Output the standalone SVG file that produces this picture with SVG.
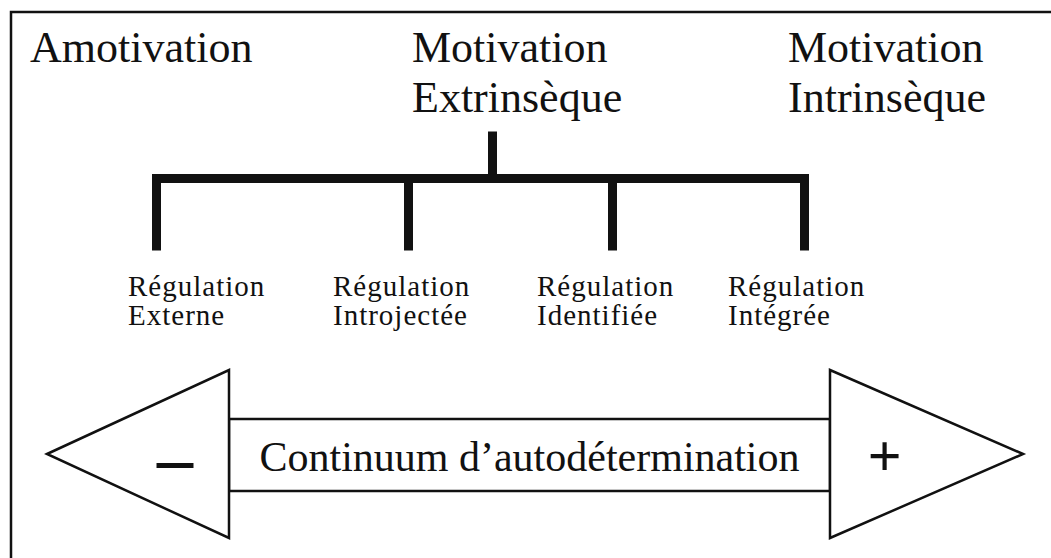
<svg xmlns="http://www.w3.org/2000/svg" width="1051" height="558" viewBox="0 0 1051 558">
<style>
text{font-family:"Liberation Serif","Times New Roman",serif;fill:#111}
.big{font-size:44px}
.mid{font-size:29px;letter-spacing:1px}
.cont{font-size:42px}
.tree{stroke:#111;stroke-width:9;fill:none;stroke-linecap:square}
.shape{stroke:#111;stroke-width:2.5;fill:#fff;stroke-linejoin:miter}
</style>
<rect x="11" y="12" width="1100" height="600" fill="#fff" stroke="#111" stroke-width="2.5"/>
<g id="amotivation"><text class="big" x="30" y="62">Amotivation</text></g>
<g id="motivation-extrinseque"><text class="big" x="412" y="62">Motivation</text><text class="big" x="412" y="112">Extrinsèque</text></g>
<g id="motivation-intrinseque"><text class="big" x="788" y="62">Motivation</text><text class="big" x="788" y="112">Intrinsèque</text></g>
<g id="connectors">
<path class="tree" d="M492.5 136 V178.5 M156.5 246 V178.5 H804.5 V246 M408.5 178.5 V246 M612.5 178.5 V246"/>
</g>
<g id="reg-externe"><text class="mid" x="128" y="296">Régulation</text><text class="mid" x="128" y="325">Externe</text></g>
<g id="reg-introjectee"><text class="mid" x="333" y="296">Régulation</text><text class="mid" x="333" y="325">Introjectée</text></g>
<g id="reg-identifiee"><text class="mid" x="537" y="296">Régulation</text><text class="mid" x="537" y="325">Identifiée</text></g>
<g id="reg-integree"><text class="mid" x="728" y="296">Régulation</text><text class="mid" x="728" y="325">Intégrée</text></g>
<g id="continuum">
<rect class="shape" x="229" y="419" width="601" height="72"/>
<polygon class="shape" points="47,454 229,370 229,538"/>
<polygon class="shape" points="1023,454 830,370 830,538"/>
<text class="cont" x="529.5" y="471" text-anchor="middle">Continuum d’autodétermination</text>
<text x="175" y="482" text-anchor="middle" style="font-size:72px;font-weight:bold">–</text>
<text x="884.5" y="476" text-anchor="middle" style="font-size:60px;font-weight:bold">+</text>
</g>
</svg>
